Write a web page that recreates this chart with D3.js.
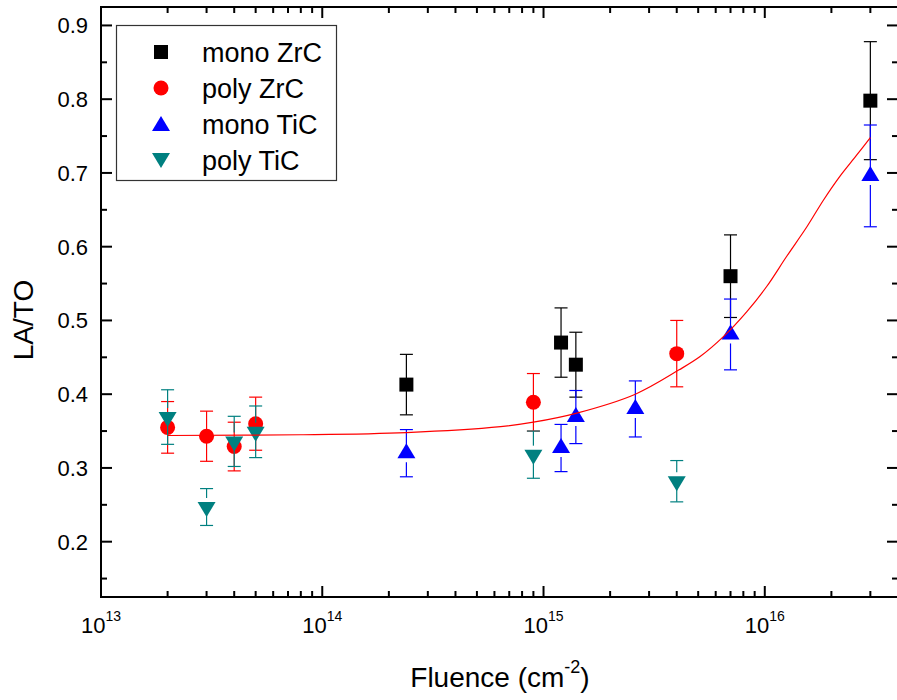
<!DOCTYPE html>
<html>
<head>
<meta charset="utf-8">
<script src="https://cdn.jsdelivr.net/npm/d3@7/dist/d3.min.js"></script>
<style>
  html, body { margin: 0; padding: 0; background: #fff; }
  svg { display: block; font-family: Arial, "Liberation Sans", sans-serif; }
</style>
</head>
<body>
<svg id="chart" width="897" height="700"></svg>
<script>
// ---------- data ----------
const seriesNames = ["mono ZrC", "poly ZrC", "mono TiC", "poly TiC"];
const seriesColors = ["#000000", "#ff0000", "#0000ff", "#008080"];
const seriesSymbols = ["square", "circle", "triangleUp", "triangleDown"];

const monoZrC_x   = [2.4e14, 1.2e15, 1.4e15, 7e15, 3e16];
const monoZrC_y   = [0.413, 0.470, 0.440, 0.560, 0.798];
const monoZrC_err = [0.041, 0.047, 0.044, 0.056, 0.080];

const polyZrC_x   = [2e13, 3e13, 4e13, 5e13, 9e14, 4e15];
const polyZrC_y   = [0.355, 0.343, 0.329, 0.360, 0.389, 0.455];
const polyZrC_err = [0.035, 0.034, 0.033, 0.036, 0.039, 0.045];

const monoTiC_x   = [2.4e14, 1.2e15, 1.4e15, 2.6e15, 7e15, 3e16];
const monoTiC_y   = [0.320, 0.327, 0.369, 0.380, 0.481, 0.696];
const monoTiC_err = [0.032, 0.032, 0.036, 0.038, 0.048, 0.069];

const polyTiC_x   = [2e13, 3e13, 4e13, 5e13, 9e14, 4e15];
const polyTiC_y   = [0.369, 0.247, 0.336, 0.349, 0.318, 0.282];
const polyTiC_err = [0.037, 0.025, 0.034, 0.035, 0.032, 0.028];

// fitted curve
const fit_x = [2e13, 8e13, 2.4e14, 6.4e14, 9e14, 1.4e15, 2.6e15, 4.1e15, 5.1e15, 6.5e15, 8.3e15, 1.02e16, 1.25e16, 1.55e16, 1.84e16, 2.18e16, 2.6e16, 3e16];
const fit_y = [0.344, 0.345, 0.348, 0.356, 0.362, 0.374, 0.400, 0.433, 0.451, 0.478, 0.512, 0.546, 0.586, 0.627, 0.663, 0.695, 0.724, 0.748];

const xTickValues = [1e13, 1e14, 1e15, 1e16];
const xTickExponents = ["13", "14", "15", "16"];
const yTickValues = [0.2, 0.3, 0.4, 0.5, 0.6, 0.7, 0.8, 0.9];
const yTickLabels = ["0.2", "0.3", "0.4", "0.5", "0.6", "0.7", "0.8", "0.9"];
const yMinorTicks = [0.15, 0.25, 0.35, 0.45, 0.55, 0.65, 0.75, 0.85];

const xDomain = [1e13, 4e16];
const yDomain = [0.125, 0.925];

// ---------- layout ----------
const L = 101, R = 898, T = 7, B = 597;
const svg = d3.select("#chart");

const x = d3.scaleLog().domain(xDomain).range([L, R]);
const y = d3.scaleLinear().domain(yDomain).range([B, T]);

// minor log ticks
const xMinor = [];
for (let e = 13; e <= 16; e++) {
  for (let m = 2; m <= 9; m++) {
    const v = m * Math.pow(10, e);
    if (v <= xDomain[1]) xMinor.push(v);
  }
}

const axisG = svg.append("g");
const majorLen = 11, minorLen = 6;

xTickValues.forEach(v => {
  axisG.append("line").attr("x1", x(v)).attr("x2", x(v)).attr("y1", B).attr("y2", B - majorLen);
  axisG.append("line").attr("x1", x(v)).attr("x2", x(v)).attr("y1", T).attr("y2", T + majorLen);
});
xMinor.forEach(v => {
  axisG.append("line").attr("x1", x(v)).attr("x2", x(v)).attr("y1", B).attr("y2", B - minorLen);
  axisG.append("line").attr("x1", x(v)).attr("x2", x(v)).attr("y1", T).attr("y2", T + minorLen);
});
yTickValues.forEach(v => {
  axisG.append("line").attr("x1", L).attr("x2", L + majorLen).attr("y1", y(v)).attr("y2", y(v));
  axisG.append("line").attr("x1", R).attr("x2", R - majorLen).attr("y1", y(v)).attr("y2", y(v));
});
yMinorTicks.forEach(v => {
  axisG.append("line").attr("x1", L).attr("x2", L + minorLen).attr("y1", y(v)).attr("y2", y(v));
  axisG.append("line").attr("x1", R).attr("x2", R - minorLen).attr("y1", y(v)).attr("y2", y(v));
});
axisG.selectAll("line").attr("stroke", "#000").attr("stroke-width", 2);

axisG.append("rect").attr("x", L).attr("y", T).attr("width", R - L).attr("height", B - T)
  .attr("fill", "none").attr("stroke", "#000").attr("stroke-width", 2);

yTickValues.forEach((v, i) => {
  svg.append("text").attr("x", 88).attr("y", y(v)).attr("dy", "0.36em")
    .attr("text-anchor", "end").attr("font-size", 22).text(yTickLabels[i]);
});
xTickValues.forEach((v, i) => {
  const t = svg.append("text").attr("x", x(v)).attr("y", 633).attr("text-anchor", "middle").attr("font-size", 22);
  t.append("tspan").text("10");
  t.append("tspan").attr("font-size", 14).attr("dy", -12).text(xTickExponents[i]);
});

svg.append("text").attr("transform", "translate(33,320) rotate(-90)")
  .attr("text-anchor", "middle").attr("font-size", 28).text("LA/TO");
const xt = svg.append("text").attr("x", 500).attr("y", 687).attr("text-anchor", "middle").attr("font-size", 28);
xt.append("tspan").text("Fluence (cm");
xt.append("tspan").attr("font-size", 18).attr("dy", -14).text("-2");
xt.append("tspan").attr("dy", 14).text(")");

// ---------- symbols ----------
function symbolPath(type) {
  if (type === "square") return "M-7,-7H7V7H-7Z";
  if (type === "circle") return "M-7.5,0A7.5,7.5 0 1,0 7.5,0A7.5,7.5 0 1,0 -7.5,0Z";
  if (type === "triangleUp") return "M0,-10L9,5L-9,5Z";
  return "M0,10L9,-5L-9,-5Z";
}

const series = [
  {xs: monoZrC_x, ys: monoZrC_y, es: monoZrC_err},
  {xs: polyZrC_x, ys: polyZrC_y, es: polyZrC_err},
  {xs: monoTiC_x, ys: monoTiC_y, es: monoTiC_err},
  {xs: polyTiC_x, ys: polyTiC_y, es: polyTiC_err}
];

const plotG = svg.append("g");
const capHalf = 6.5;
series.forEach((s, si) => {
  const col = seriesColors[si];
  const sym = seriesSymbols[si];
  const g = plotG.append("g");
  s.xs.forEach((xv, i) => {
    const cx = x(xv), cy = y(s.ys[i]);
    const yt = y(s.ys[i] + s.es[i]), yb = y(s.ys[i] - s.es[i]);
    let upEnd = cy, lowStart = cy;
    if (sym === "triangleUp") lowStart = cy + 9;
    if (sym === "triangleDown") upEnd = cy - 9;
    g.append("line").attr("x1", cx).attr("x2", cx).attr("y1", yt).attr("y2", upEnd);
    g.append("line").attr("x1", cx).attr("x2", cx).attr("y1", lowStart).attr("y2", yb);
    g.append("line").attr("x1", cx - capHalf).attr("x2", cx + capHalf).attr("y1", yt).attr("y2", yt);
    g.append("line").attr("x1", cx - capHalf).attr("x2", cx + capHalf).attr("y1", yb).attr("y2", yb);
  });
  g.selectAll("line").attr("stroke", col).attr("stroke-width", 1.2);
  s.xs.forEach((xv, i) => {
    g.append("path").attr("d", symbolPath(sym))
      .attr("transform", `translate(${x(xv)},${y(s.ys[i])})`).attr("fill", col);
  });
});

const fitData = fit_x.map((v, i) => [v, fit_y[i]]);
plotG.append("path")
  .attr("d", d3.line().x(d => x(d[0])).y(d => y(d[1])).curve(d3.curveCatmullRom.alpha(0.5))(fitData))
  .attr("fill", "none").attr("stroke", "#ff0000").attr("stroke-width", 1.2);

// ---------- legend ----------
const lg = svg.append("g");
lg.append("rect").attr("x", 116.5).attr("y", 25.5).attr("width", 220).attr("height", 155)
  .attr("fill", "#fff").attr("stroke", "#333").attr("stroke-width", 1.2);
const rowY = [52, 88, 124, 160];
seriesNames.forEach((n, i) => {
  lg.append("path").attr("d", symbolPath(seriesSymbols[i]))
    .attr("transform", `translate(161,${rowY[i] + (seriesSymbols[i] === "triangleUp" ? 2 : seriesSymbols[i] === "triangleDown" ? -2 : 0)})`)
    .attr("fill", seriesColors[i]);
  lg.append("text").attr("x", 202).attr("y", rowY[i]).attr("dy", "0.36em")
    .attr("font-size", 27).text(n);
});
</script>
</body>
</html>
